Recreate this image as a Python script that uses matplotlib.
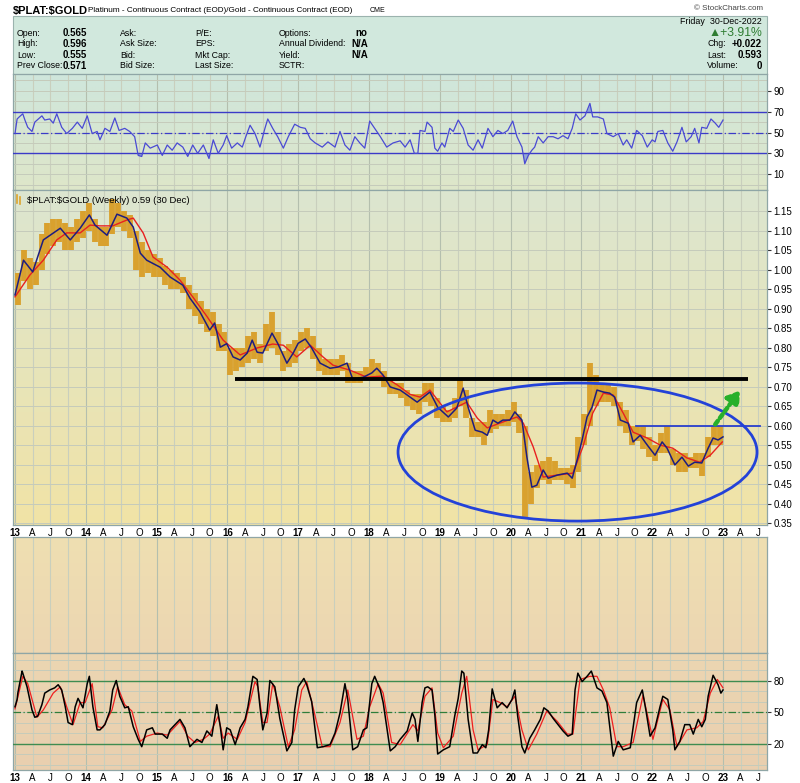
"""
$PLAT:$GOLD weekly chart (StockCharts style) - odtworzenie
"""

import numpy as np
import matplotlib.pyplot as plt
from matplotlib.colors import to_rgb
from matplotlib.patches import Ellipse, Rectangle

plt.close('all')
plt.rcParams['font.family'] = ['Liberation Sans', 'DejaVu Sans']

# ---------------- dane ----------------
# miesiace 2013-01 .. 2022-12, zakres tygodniowych slupkow (low/high)
month_t = 2013 + (np.arange(120) + 0.5) / 12
price_lo = [0.91, 0.97, 0.95, 0.96, 1.00, 1.04, 1.06, 1.07, 1.05, 1.05, 1.07, 1.08,
            1.10, 1.07, 1.06, 1.06, 1.09, 1.11, 1.10, 1.08, 1.00, 0.98, 0.99, 0.98,
            0.98, 0.96, 0.95, 0.95, 0.94, 0.90, 0.88, 0.86, 0.84, 0.83, 0.79, 0.79,
            0.73, 0.74, 0.75, 0.76, 0.77, 0.76, 0.79, 0.80, 0.78, 0.74, 0.75, 0.76,
            0.79, 0.80, 0.77, 0.74, 0.73, 0.73, 0.73, 0.74, 0.71, 0.71, 0.71, 0.72,
            0.72, 0.72, 0.70, 0.68, 0.68, 0.67, 0.65, 0.64, 0.63, 0.66, 0.65, 0.62,
            0.61, 0.61, 0.62, 0.65, 0.62, 0.57, 0.57, 0.55, 0.58, 0.59, 0.60, 0.60,
            0.61, 0.58, 0.36, 0.40, 0.44, 0.46, 0.45, 0.46, 0.46, 0.45, 0.44, 0.48,
            0.55, 0.60, 0.65, 0.66, 0.66, 0.65, 0.60, 0.58, 0.55, 0.56, 0.54, 0.52,
            0.51, 0.53, 0.53, 0.50, 0.48, 0.48, 0.49, 0.49, 0.47, 0.52, 0.55, 0.55]
price_hi = [0.99, 1.05, 1.03, 1.02, 1.09, 1.12, 1.13, 1.13, 1.12, 1.11, 1.13, 1.15,
            1.17, 1.13, 1.11, 1.11, 1.18, 1.17, 1.15, 1.14, 1.10, 1.07, 1.05, 1.04,
            1.03, 1.01, 1.00, 0.99, 0.98, 0.96, 0.94, 0.92, 0.90, 0.89, 0.86, 0.84,
            0.80, 0.80, 0.80, 0.83, 0.84, 0.81, 0.86, 0.89, 0.84, 0.79, 0.81, 0.82,
            0.84, 0.85, 0.83, 0.80, 0.77, 0.77, 0.77, 0.78, 0.76, 0.74, 0.74, 0.75,
            0.77, 0.76, 0.74, 0.72, 0.71, 0.71, 0.69, 0.68, 0.68, 0.71, 0.71, 0.67,
            0.65, 0.64, 0.67, 0.72, 0.69, 0.62, 0.61, 0.61, 0.64, 0.63, 0.63, 0.64,
            0.66, 0.63, 0.60, 0.48, 0.50, 0.51, 0.52, 0.51, 0.49, 0.49, 0.50, 0.57,
            0.63, 0.76, 0.73, 0.71, 0.71, 0.70, 0.66, 0.64, 0.60, 0.60, 0.60, 0.57,
            0.55, 0.58, 0.60, 0.54, 0.53, 0.53, 0.52, 0.53, 0.53, 0.57, 0.60, 0.60]

# krotka srednia (granatowa)
ma_fast_t = [2013.00, 2013.12, 2013.25, 2013.40, 2013.64, 2013.78, 2013.92, 2014.05, 2014.13,
             2014.30, 2014.44, 2014.58, 2014.67, 2014.77, 2014.86, 2015.05, 2015.19, 2015.37,
             2015.47, 2015.61, 2015.75, 2015.82, 2015.90, 2015.99, 2016.08, 2016.18, 2016.28,
             2016.35, 2016.42, 2016.50, 2016.63, 2016.71, 2016.84, 2016.93, 2017.00, 2017.10,
             2017.19, 2017.31, 2017.45, 2017.56, 2017.69, 2017.77, 2017.92, 2018.04, 2018.11,
             2018.20, 2018.30, 2018.44, 2018.58, 2018.68, 2018.86, 2018.97, 2019.12, 2019.24,
             2019.33, 2019.40, 2019.50, 2019.60, 2019.67, 2019.75, 2019.82, 2019.89, 2019.99,
             2020.06, 2020.16, 2020.23, 2020.30, 2020.37, 2020.46, 2020.53, 2020.66, 2020.80,
             2020.87, 2020.94, 2021.01, 2021.08, 2021.15, 2021.22, 2021.31, 2021.40, 2021.47,
             2021.55, 2021.66, 2021.73, 2021.83, 2021.93, 2022.04, 2022.14, 2022.21, 2022.32,
             2022.42, 2022.51, 2022.60, 2022.70, 2022.79, 2022.86, 2022.93, 2023.00]
ma_fast_v = [0.935, 1.024, 0.994, 1.076, 1.106, 1.076, 1.106, 1.140, 1.114,
             1.088, 1.142, 1.132, 1.109, 1.042, 1.024, 1.006, 0.981, 0.960,
             0.927, 0.892, 0.845, 0.863, 0.801, 0.810, 0.776, 0.768, 0.786,
             0.819, 0.788, 0.786, 0.837, 0.811, 0.760, 0.786, 0.811, 0.822,
             0.799, 0.760, 0.747, 0.750, 0.760, 0.719, 0.724, 0.735, 0.747,
             0.729, 0.699, 0.691, 0.673, 0.660, 0.686, 0.647, 0.622, 0.645,
             0.696, 0.647, 0.588, 0.583, 0.575, 0.614, 0.606, 0.614, 0.614,
             0.635, 0.614, 0.519, 0.442, 0.447, 0.486, 0.465, 0.473, 0.478,
             0.465, 0.512, 0.563, 0.622, 0.647, 0.691, 0.686, 0.683, 0.673,
             0.614, 0.606, 0.558, 0.575, 0.550, 0.524, 0.558, 0.542, 0.499,
             0.519, 0.496, 0.506, 0.504, 0.542, 0.568, 0.563, 0.571]

# dluga srednia (czerwona)
ma_slow_t = [2013.00, 2013.21, 2013.40, 2013.59, 2013.73, 2013.92, 2014.06, 2014.20, 2014.38,
             2014.58, 2014.67, 2014.81, 2014.95, 2015.15, 2015.33, 2015.51, 2015.71, 2015.94,
             2016.18, 2016.42, 2016.64, 2016.79, 2016.98, 2017.17, 2017.35, 2017.49, 2017.73,
             2017.97, 2018.20, 2018.40, 2018.58, 2018.72, 2018.86, 2019.10, 2019.38, 2019.53,
             2019.67, 2019.89, 2020.09, 2020.18, 2020.32, 2020.46, 2020.66, 2020.88, 2021.02,
             2021.16, 2021.31, 2021.45, 2021.59, 2021.73, 2021.93, 2022.11, 2022.29, 2022.49,
             2022.67, 2022.82, 2022.99]
ma_slow_v = [0.930, 0.986, 1.024, 1.076, 1.094, 1.094, 1.114, 1.112, 1.112,
             1.127, 1.132, 1.094, 1.032, 1.006, 0.973, 0.930, 0.880, 0.819,
             0.781, 0.799, 0.809, 0.806, 0.776, 0.806, 0.776, 0.755, 0.742,
             0.724, 0.727, 0.704, 0.680, 0.673, 0.691, 0.635, 0.660, 0.619,
             0.594, 0.609, 0.622, 0.606, 0.545, 0.468, 0.473, 0.478, 0.545,
             0.632, 0.683, 0.678, 0.632, 0.583, 0.568, 0.550, 0.542, 0.517,
             0.506, 0.524, 0.558]

# RSI(14)
rsi_t = [2013.00, 2013.03, 2013.06, 2013.11, 2013.14, 2013.18, 2013.24, 2013.28, 2013.38, 2013.42,
         2013.49, 2013.54, 2013.59, 2013.66, 2013.73, 2013.81, 2013.88, 2013.95, 2014.02, 2014.09,
         2014.16, 2014.20, 2014.27, 2014.34, 2014.41, 2014.47, 2014.55, 2014.62, 2014.69, 2014.74,
         2014.79, 2014.84, 2014.91, 2015.01, 2015.08, 2015.15, 2015.22, 2015.29, 2015.37, 2015.44,
         2015.51, 2015.58, 2015.66, 2015.74, 2015.80, 2015.87, 2015.94, 2015.99, 2016.06, 2016.14,
         2016.21, 2016.26, 2016.32, 2016.39, 2016.46, 2016.53, 2016.57, 2016.64, 2016.71, 2016.79,
         2016.86, 2016.95, 2017.03, 2017.10, 2017.17, 2017.24, 2017.34, 2017.42, 2017.52, 2017.59,
         2017.66, 2017.73, 2017.80, 2017.87, 2017.94, 2018.01, 2018.08, 2018.16, 2018.25, 2018.34,
         2018.44, 2018.51, 2018.58, 2018.64, 2018.69, 2018.72, 2018.79, 2018.82, 2018.89, 2018.93,
         2018.97, 2019.03, 2019.07, 2019.14, 2019.19, 2019.26, 2019.33, 2019.40, 2019.47, 2019.54,
         2019.60, 2019.68, 2019.75, 2019.82, 2019.89, 2019.96, 2020.03, 2020.09, 2020.16, 2020.20,
         2020.25, 2020.30, 2020.34, 2020.39, 2020.46, 2020.53, 2020.60, 2020.67, 2020.74, 2020.81,
         2020.87, 2020.92, 2020.98, 2021.05, 2021.12, 2021.16, 2021.23, 2021.31, 2021.36, 2021.45,
         2021.52, 2021.59, 2021.64, 2021.71, 2021.78, 2021.86, 2021.93, 2022.00, 2022.04, 2022.08,
         2022.15, 2022.22, 2022.29, 2022.35, 2022.42, 2022.48, 2022.55, 2022.60, 2022.66, 2022.70,
         2022.77, 2022.83, 2022.89, 2022.94, 2023.00]
rsi_v = [49, 63, 65, 68, 62, 55, 51, 60, 66, 62,
         63, 59, 68, 55, 49, 54, 60, 54, 66, 49,
         51, 43, 54, 51, 64, 52, 54, 51, 46, 28,
         27, 40, 35, 38, 28, 38, 33, 40, 36, 27,
         38, 30, 38, 25, 43, 30, 38, 47, 35, 40,
         36, 46, 57, 49, 36, 54, 63, 54, 46, 35,
         46, 58, 55, 54, 44, 40, 36, 41, 36, 51,
         38, 33, 46, 40, 35, 61, 54, 46, 36, 40,
         42, 36, 43, 30, 30, 52, 51, 60, 55, 35,
         32, 40, 36, 54, 51, 62, 54, 38, 33, 43,
         35, 54, 46, 52, 49, 52, 61, 46, 36, 20,
         28, 33, 36, 46, 40, 46, 46, 44, 47, 44,
         54, 68, 62, 66, 78, 65, 65, 63, 49, 46,
         49, 38, 43, 35, 52, 47, 36, 43, 41, 51,
         52, 40, 32, 41, 55, 41, 46, 54, 40, 55,
         54, 63, 59, 55, 62]

# Stochastic %K (czarna)
stk_t = [2013.00, 2013.03, 2013.04, 2013.10, 2013.11, 2013.17, 2013.24, 2013.28, 2013.32, 2013.38,
         2013.42, 2013.49, 2013.56, 2013.61, 2013.66, 2013.71, 2013.75, 2013.81, 2013.85, 2013.89,
         2013.96, 2014.02, 2014.05, 2014.10, 2014.16, 2014.20, 2014.27, 2014.34, 2014.38, 2014.43,
         2014.48, 2014.55, 2014.60, 2014.67, 2014.74, 2014.79, 2014.86, 2014.94, 2014.98, 2015.08,
         2015.15, 2015.19, 2015.26, 2015.33, 2015.40, 2015.47, 2015.57, 2015.64, 2015.71, 2015.78,
         2015.85, 2015.90, 2015.94, 2015.99, 2016.04, 2016.11, 2016.18, 2016.25, 2016.29, 2016.36,
         2016.42, 2016.46, 2016.50, 2016.56, 2016.60, 2016.67, 2016.74, 2016.84, 2016.91, 2016.95,
         2017.00, 2017.08, 2017.12, 2017.19, 2017.27, 2017.35, 2017.45, 2017.52, 2017.59, 2017.66,
         2017.70, 2017.77, 2017.84, 2017.92, 2017.97, 2018.04, 2018.08, 2018.16, 2018.20, 2018.30,
         2018.37, 2018.44, 2018.54, 2018.61, 2018.65, 2018.69, 2018.75, 2018.79, 2018.83, 2018.89,
         2018.93, 2018.97, 2019.05, 2019.14, 2019.21, 2019.26, 2019.31, 2019.34, 2019.40, 2019.47,
         2019.53, 2019.60, 2019.65, 2019.69, 2019.74, 2019.81, 2019.88, 2019.95, 2020.02, 2020.06,
         2020.10, 2020.16, 2020.20, 2020.27, 2020.34, 2020.42, 2020.47, 2020.53, 2020.60, 2020.67,
         2020.74, 2020.81, 2020.87, 2020.91, 2020.95, 2021.01, 2021.08, 2021.14, 2021.22, 2021.29,
         2021.36, 2021.45, 2021.52, 2021.59, 2021.69, 2021.78, 2021.86, 2021.91, 2021.97, 2022.04,
         2022.11, 2022.15, 2022.22, 2022.29, 2022.32, 2022.39, 2022.46, 2022.53, 2022.58, 2022.65,
         2022.70, 2022.75, 2022.79, 2022.86, 2022.93, 2022.97, 2023.00]
stk_v = [55, 62, 68, 89, 87, 74, 52, 45, 46, 57,
         68, 71, 73, 76, 71, 55, 40, 38, 55, 63,
         54, 77, 84, 55, 33, 33, 38, 51, 71, 80,
         65, 54, 55, 36, 24, 17, 33, 35, 29, 29,
         25, 33, 38, 43, 35, 17, 24, 21, 32, 27,
         57, 36, 14, 35, 33, 19, 35, 43, 55, 84,
         81, 55, 33, 49, 80, 74, 44, 13, 21, 52,
         74, 82, 76, 60, 16, 17, 19, 30, 49, 77,
         62, 14, 17, 33, 35, 77, 84, 71, 59, 13,
         17, 24, 32, 49, 43, 22, 59, 73, 74, 71,
         47, 10, 14, 17, 46, 63, 89, 87, 43, 11,
         11, 19, 16, 33, 72, 54, 59, 54, 62, 71,
         46, 17, 11, 25, 33, 43, 54, 51, 44, 38,
         32, 27, 29, 71, 87, 79, 84, 89, 73, 70,
         59, 8, 22, 14, 16, 59, 71, 52, 27, 35,
         55, 65, 62, 33, 14, 22, 38, 38, 29, 43,
         36, 43, 65, 85, 76, 68, 71]

# Stochastic %D (czerwona)
std_t = [2013.00, 2013.11, 2013.18, 2013.31, 2013.40, 2013.54, 2013.64, 2013.73, 2013.82, 2013.92,
         2013.99, 2014.09, 2014.17, 2014.24, 2014.37, 2014.45, 2014.55, 2014.65, 2014.77, 2014.86,
         2015.01, 2015.15, 2015.33, 2015.44, 2015.54, 2015.66, 2015.75, 2015.87, 2015.94, 2016.01,
         2016.14, 2016.25, 2016.39, 2016.43, 2016.50, 2016.56, 2016.64, 2016.74, 2016.86, 2016.95,
         2017.05, 2017.12, 2017.24, 2017.34, 2017.45, 2017.59, 2017.70, 2017.83, 2017.92, 2018.01,
         2018.13, 2018.20, 2018.32, 2018.44, 2018.62, 2018.69, 2018.79, 2018.89, 2018.97, 2019.05,
         2019.19, 2019.31, 2019.38, 2019.47, 2019.54, 2019.67, 2019.75, 2019.85, 2019.95, 2020.06,
         2020.16, 2020.25, 2020.37, 2020.51, 2020.66, 2020.80, 2020.88, 2020.98, 2021.12, 2021.22,
         2021.31, 2021.40, 2021.50, 2021.59, 2021.73, 2021.87, 2022.01, 2022.15, 2022.25, 2022.35,
         2022.49, 2022.63, 2022.72, 2022.82, 2022.92, 2023.00]
std_v = [53, 84, 77, 45, 52, 68, 74, 55, 38, 59,
         59, 77, 36, 35, 52, 74, 57, 51, 22, 27,
         30, 28, 41, 27, 21, 24, 29, 46, 25, 30,
         24, 40, 79, 74, 40, 40, 77, 55, 17, 33,
         71, 79, 46, 17, 17, 40, 71, 24, 27, 55,
         77, 68, 21, 19, 38, 32, 65, 73, 30, 16,
         27, 68, 84, 33, 14, 19, 62, 59, 55, 65,
         33, 14, 29, 51, 41, 29, 29, 81, 84, 84,
         71, 54, 17, 17, 21, 66, 24, 62, 52, 17,
         33, 35, 41, 68, 81, 73]

# linie narysowane przez autora
resist_lvl, resist_from, resist_to = 0.72, 2016.11, 2023.35
neck_lvl, neck_from, neck_to = 0.60, 2021.77, 2023.52
oval_center, oval_w, oval_h = (2020.945, 0.532), 5.07, 0.354
arrow_from, arrow_to = (2022.89, 0.603), (2023.24, 0.69)

# ---------------- wyglad ----------------
W, H = 800, 783
X0, X1 = 2012.976, 2023.617

fig = plt.figure(figsize=(8, 7.83), dpi=100)
fig.patch.set_facecolor('white')


def frame(top, bottom):
    return [13.3 / W, 1 - bottom / H, 753.4 / W, (bottom - top) / H]


def shade(ax, c_top, c_bot):
    g = np.linspace(0, 1, 64)[:, None, None]
    img = np.array(to_rgb(c_top)) * (1 - g) + np.array(to_rgb(c_bot)) * g
    img = np.repeat(img, 2, axis=1)
    ax.imshow(img, extent=[0, 1, 0, 1], transform=ax.transAxes,
              aspect='auto', zorder=0, interpolation='bilinear')


q_ticks, q_labels = [], []
for yr in range(2013, 2024):
    for k, lab in enumerate([str(yr)[2:], 'A', 'J', 'O']):
        t = yr + k * 0.25
        if X0 < t < X1:
            q_ticks.append(t)
            q_labels.append(lab)


def base(ax, ylim, yticks, ylabels, hgrid=None, xlabels=False):
    ax.set_xlim(X0, X1)
    ax.set_ylim(*ylim)
    ax.set_xticks(q_ticks)
    for t, lab in zip(q_ticks, q_labels):
        c = '#b4bfae' if lab.isdigit() else '#c9cfbd'
        ax.axvline(t, color=c, lw=0.8, zorder=1)
    if hgrid is not None:
        for v in hgrid:
            ax.axhline(v, color='#c5cbbb', lw=0.7, zorder=1)
    ax.yaxis.tick_right()
    ax.set_yticks(yticks)
    ax.set_yticklabels(ylabels)
    ax.tick_params(axis='y', labelsize=7, length=3, pad=2, colors='#333333',
                   labelcolor='black')
    if xlabels:
        ax.set_xticklabels(q_labels)
        ax.tick_params(axis='x', labelsize=7, length=0, pad=2.5)
        for tl, lab in zip(ax.get_xticklabels(), q_labels):
            if lab.isdigit():
                tl.set_fontweight('bold')
    else:
        ax.tick_params(axis='x', labelbottom=False, length=0)
    for s in ax.spines.values():
        s.set_color('#8fa6a6')
        s.set_linewidth(0.9)


# --- naglowek ---
fig.text(13 / W, 1 - 11 / H, r'\$PLAT:\$GOLD', fontsize=8, fontweight='bold', va='center')
fig.text(88 / W, 1 - 11 / H, 'Platinum - Continuous Contract (EOD)/Gold - Continuous Contract (EOD)',
         fontsize=5.9, va='center')
fig.text(370 / W, 1 - 11 / H, 'CME', fontsize=5, va='center')
fig.text(763 / W, 1 - 9 / H, '© StockCharts.com', fontsize=5.8, va='center', ha='right',
         color='#444444')

fig.add_artist(Rectangle((13.3 / W, 1 - 74 / H), 753.4 / W, 58 / H, transform=fig.transFigure,
                         facecolor='#d1e8dd', edgecolor='#9bb3ae', lw=0.8, zorder=0))

rows = [33, 44, 55, 66]
info_cols = [(17, ['Open:', 'High:', 'Low:', 'Prev Close:']),
             (120, ['Ask:', 'Ask Size:', 'Bid:', 'Bid Size:']),
             (195, ['P/E:', 'EPS:', 'Mkt Cap:', 'Last Size:']),
             (279, ['Options:', 'Annual Dividend:', 'Yield:', 'SCTR:'])]
for x, labs in info_cols:
    for y, s in zip(rows, labs):
        fig.text(x / W, 1 - y / H, s, fontsize=6.3, va='center')
for y, s in zip(rows, ['0.565', '0.596', '0.555', '0.571']):
    fig.text(63 / W, 1 - y / H, s, fontsize=7, fontweight='bold', va='center')
fig.text(367 / W, 1 - rows[0] / H, 'no', fontsize=7, fontweight='bold', va='center', ha='right')
fig.text(351 / W, 1 - rows[1] / H, 'N/A', fontsize=7, fontweight='bold', va='center')
fig.text(351 / W, 1 - rows[2] / H, 'N/A', fontsize=7, fontweight='bold', va='center')

fig.text(762 / W, 1 - 22 / H, 'Friday  30-Dec-2022', fontsize=6.4, va='center', ha='right')
fig.text(762 / W, 1 - 33.5 / H, '▲+3.91%', fontsize=8.8, va='center', ha='right', color='#2f7d32')
for y, lab, val in zip(rows[1:], ['Chg:', 'Last:', 'Volume:'], ['+0.022', '0.593', '0']):
    fig.text(707 / W, 1 - y / H, lab, fontsize=6.3, va='center')
    fig.text(762 / W, 1 - y / H, val, fontsize=7, fontweight='bold', va='center', ha='right')

# --- RSI ---
ax_rsi = fig.add_axes(frame(74, 190))
shade(ax_rsi, '#cfe6dc', '#dee6c9')
base(ax_rsi, (-5.2, 106.2), [10, 30, 50, 70, 90], ['10', '30', '50', '70', '90'],
     hgrid=range(0, 101, 10))
rsi_arr = np.array(rsi_v, dtype=float)
ax_rsi.fill_between(rsi_t, rsi_arr, 30, where=rsi_arr < 30, interpolate=True,
                    color='#5a78d6', alpha=0.55, lw=0, zorder=2)
ax_rsi.fill_between(rsi_t, rsi_arr, 70, where=rsi_arr > 70, interpolate=True,
                    color='#5a78d6', alpha=0.55, lw=0, zorder=2)
ax_rsi.axhline(70, color='#3b3bc8', lw=1.0, zorder=3)
ax_rsi.axhline(30, color='#3b3bc8', lw=1.0, zorder=3)
ax_rsi.axhline(50, color='#3b3bc8', lw=0.9, ls=(0, (6, 2, 1, 2)), zorder=3)
ax_rsi.plot(rsi_t, rsi_v, color='#4a4ad4', lw=0.9, zorder=4)

# --- glowny panel ---
ax = fig.add_axes(frame(190, 525))
shade(ax, '#dce6d0', '#f1e3a6')
pticks = np.round(np.arange(0.35, 1.151, 0.05), 2)
base(ax, (0.345, 1.204), pticks, ['%.2f' % v for v in pticks], hgrid=pticks, xlabels=True)
ax.vlines(month_t, price_lo, price_hi, color='#d9a12e', lw=4.2, zorder=3)
ax.plot(ma_slow_t, ma_slow_v, color='#e82020', lw=1.0, zorder=4)
ax.plot(ma_fast_t, ma_fast_v, color='#1d1d80', lw=1.1, zorder=5)

ax.plot([resist_from, resist_to], [resist_lvl, resist_lvl], color='black', lw=2.8, zorder=6,
        solid_capstyle='butt')
ax.plot([neck_from, neck_to], [neck_lvl, neck_lvl], color='#2a3fcc', lw=1.3, zorder=6)
ax.add_patch(Ellipse(oval_center, oval_w, oval_h, fill=False, edgecolor='#2342d8', lw=2.0,
                     zorder=6))
ax.annotate('', xy=arrow_to, xytext=arrow_from, zorder=7,
            arrowprops=dict(arrowstyle='-|>,head_width=0.45,head_length=0.7', lw=3.2,
                            ls=(0, (1, 0.8)), color='#27b02a', shrinkA=0, shrinkB=0))

ax.text(0.0185, 0.983, r'\$PLAT:\$GOLD (Weekly) 0.59 (30 Dec)', transform=ax.transAxes,
        fontsize=6.8, va='top', zorder=8)
ax.plot([0.0045, 0.0045], [0.962, 0.985], transform=ax.transAxes, color='#dca42c', lw=1.2,
        zorder=8)
ax.plot([0.0095, 0.0095], [0.958, 0.980], transform=ax.transAxes, color='#dca42c', lw=1.2,
        zorder=8)

# --- pusty panel (wolumen) ---
ax_v = fig.add_axes(frame(537, 653))
shade(ax_v, '#efdfb1', '#ecd6b2')
base(ax_v, (0, 1), [], [])

# --- Stochastic ---
ax_st = fig.add_axes(frame(653, 770))
shade(ax_st, '#ecd6b2', '#e9cfaf')
base(ax_st, (-5.2, 106.2), [20, 50, 80], ['20', '50', '80'], hgrid=range(0, 101, 10),
     xlabels=True)
ax_st.axhline(80, color='#3f8c50', lw=1.0, zorder=3)
ax_st.axhline(20, color='#3f8c50', lw=1.0, zorder=3)
ax_st.axhline(50, color='#2f7d3a', lw=0.9, ls=(0, (6, 2, 1, 2)), zorder=3)
ax_st.plot(std_t, std_v, color='#ee2020', lw=0.9, zorder=4)
ax_st.plot(stk_t, stk_v, color='black', lw=1.1, zorder=5)

fig.savefig('out.png', dpi=100)
